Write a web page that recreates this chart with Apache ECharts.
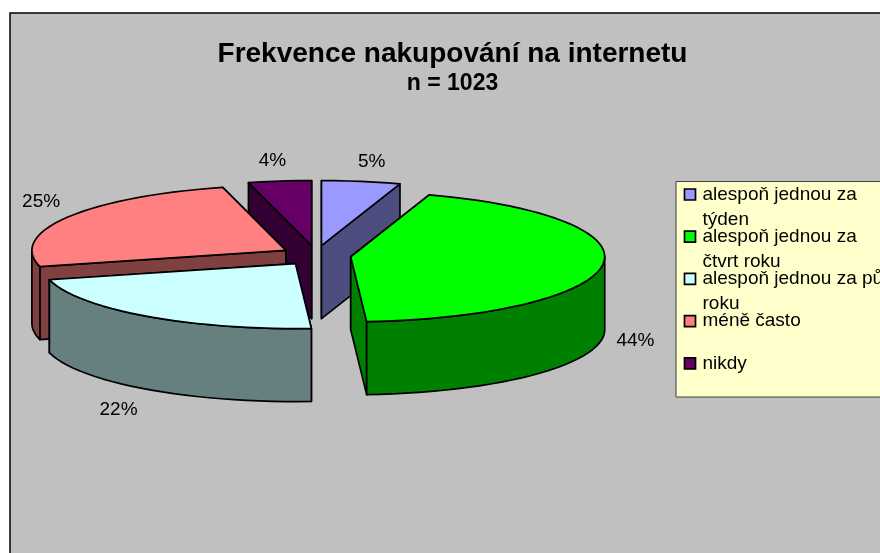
<!DOCTYPE html>
<html>
<head>
<meta charset="utf-8">
<style>html,body{margin:0;padding:0;background:#fff;overflow:hidden}#c{width:880px;height:553px}</style>
<script src="https://cdn.jsdelivr.net/npm/echarts@6/dist/echarts.min.js"></script>
</head>
<body>
<div id="c"></div>
<script>
// --- data ---
const titleText = 'Frekvence nakupování na internetu';
const subtitleText = 'n = 1023';
const categories = ['alespoň jednou za týden', 'alespoň jednou za čtvrt roku', 'alespoň jednou za půl roku', 'méně často', 'nikdy'];
const legendLines = [['alespoň jednou za', 'týden'], ['alespoň jednou za', 'čtvrt roku'], ['alespoň jednou za půl', 'roku'], ['méně často'], ['nikdy']];
const values = [5, 44, 22, 25, 4];

// --- styles / layout ---
const palette = ['#9999FF', '#00FF00', '#CCFFFF', '#FF8080', '#660066'];
const FONT = '"Liberation Sans", Arial, sans-serif';
const pie = { cx: 316, cy: 255.5, rx: 254, ry: 65, depth: 73, explodeX: 35, explodeY: 10 };
const labelNudge = [[5, 2], [-2, 0], [-7, 3], [4, -4], [-3, 2]];

const total = values.reduce((a, b) => a + b, 0);
const shade = hex => {
  const n = parseInt(hex.slice(1), 16);
  const h = v => Math.round(v / 2);
  return `rgb(${h(n >> 16)},${h((n >> 8) & 255)},${h(n & 255)})`;
};
let acc = 0;
const slices = values.map((v, i) => {
  const start = acc / total * 2 * Math.PI;
  acc += v;
  const end = acc / total * 2 * Math.PI;
  const mid = (start + end) / 2;
  return { i, v, start, end, mid,
    ax: pie.cx + pie.explodeX * Math.sin(mid),
    ay: pie.cy - pie.explodeY * Math.cos(mid) };
});
// paint back to front
const paintOrder = slices.slice().sort((a, b) => a.ay - b.ay);

function arc(s, a0, a1, dy) {
  const n = Math.max(2, Math.ceil((a1 - a0) / (3 * Math.PI / 180)));
  const pts = [];
  for (let k = 0; k <= n; k++) {
    const t = a0 + (a1 - a0) * k / n;
    pts.push([s.ax + pie.rx * Math.sin(t), s.ay - pie.ry * Math.cos(t) + dy]);
  }
  return pts;
}
const line = { stroke: '#000', lineWidth: 1.7, lineJoin: 'round' };

function renderSlice(params, api) {
  const s = paintOrder[params.dataIndex];
  const top = palette[s.i], side = shade(top);
  const children = [];
  const poly = (points, fill) => children.push({ type: 'polygon', shape: { points }, style: Object.assign({ fill }, line) });
  // cut faces, the one further back first
  [s.start, s.end].sort((p, q) => Math.cos(q) - Math.cos(p)).forEach(t => {
    const p = arc(s, t, t + 1e-4, 0)[0];
    poly([[s.ax, s.ay], p, [p[0], p[1] + pie.depth], [s.ax, s.ay + pie.depth]], side);
  });
  // outer wall: only the part facing the viewer
  const a0 = Math.max(s.start, Math.PI / 2), a1 = Math.min(s.end, 3 * Math.PI / 2);
  if (a1 > a0) poly(arc(s, a0, a1, 0).concat(arc(s, a0, a1, pie.depth).reverse()), side);
  // top face
  poly([[s.ax, s.ay]].concat(arc(s, s.start, s.end, 0)), top);
  // percentage label
  const c = Math.cos(s.mid), sn = Math.sin(s.mid);
  children.push({ type: 'text', z2: 10, style: {
    text: s.v + '%', font: '19px ' + FONT, fill: '#000', align: 'center', verticalAlign: 'middle',
    x: s.ax + (pie.rx + 35) * sn + labelNudge[s.i][0],
    y: s.ay - (pie.ry + 22) * c + (c < 0 ? pie.depth : 0) + labelNudge[s.i][1]
  } });
  return { type: 'group', children };
}

const legendTop = 194.5, legendPitch = 42.2;
const legendItems = [];
legendLines.forEach((lines, i) => {
  const y = legendTop + i * legendPitch;
  legendItems.push({ type: 'rect', shape: { x: 684.5, y: y - 5.5, width: 11, height: 11 },
    style: { fill: palette[i], stroke: '#000', lineWidth: 1.7 }, z: 5 });
  lines.forEach((t, k) => legendItems.push({ type: 'text', z: 5,
    style: { text: t, x: 702.5, y: y + k * 25, font: '19px ' + FONT, fill: '#000', verticalAlign: 'middle' } }));
});

const chart = echarts.init(document.getElementById('c'), null, { renderer: 'canvas' });
chart.setOption({
  animation: false,
  backgroundColor: '#FFFFFF',
  title: {
    text: titleText, subtext: subtitleText, left: 452.5, top: 35, textAlign: 'center', itemGap: 4,
    textStyle: { fontFamily: FONT, fontWeight: 'bold', fontSize: 28, color: '#000' },
    subtextStyle: { fontFamily: FONT, fontWeight: 'bold', fontSize: 23, color: '#000' },
    left: 447.5
  },
  graphic: [
    { type: 'rect', z: -1, shape: { x: 10, y: 13, width: 900, height: 600 }, style: { fill: '#C0C0C0', stroke: '#000', lineWidth: 1.5 } },
    { type: 'rect', z: 4, shape: { x: 676, y: 181.5, width: 260, height: 215.5 }, style: { fill: '#FFFFCC', stroke: '#404040', lineWidth: 1 } }
  ].concat(legendItems),
  series: [{
    type: 'custom', coordinateSystem: 'none', renderItem: renderSlice, silent: true, z: 2,
    data: paintOrder.map(s => ({ name: categories[s.i], value: s.v }))
  }]
});
</script>
</body>
</html>
